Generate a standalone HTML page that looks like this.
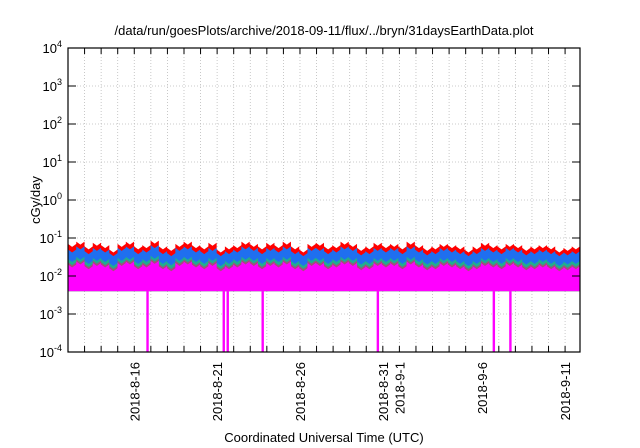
<!DOCTYPE html>
<html><head><meta charset="utf-8"><style>
body{margin:0;background:#fff;}
svg{display:block;font-family:"Liberation Sans",sans-serif;}
</style></head><body>
<svg id="chart" width="640" height="448" viewBox="0 0 640 448">
<text x="324" y="35" font-size="13" text-anchor="middle">/data/run/goesPlots/archive/2018-09-11/flux/../bryn/31daysEarthData.plot</text>
<text transform="translate(40,200) rotate(-90)" font-size="13" text-anchor="middle">cGy/day</text>
<text x="324" y="442" font-size="13" text-anchor="middle">Coordinated Universal Time (UTC)</text>
<g id="grid"></g><g id="series"></g><g id="axes"></g>
<rect x="68" y="48" width="512" height="304" fill="none" stroke="#000" stroke-width="1.2"/>
</svg>
<script>
const yTicks=[4,3,2,1,0,-1,-2,-3,-4];
const dateLabels=["2018-8-16","2018-8-21","2018-8-26","2018-8-31","2018-9-1","2018-9-6","2018-9-11"];
const dateDays=[4,9,14,19,20,25,30];
const red=[0.07,0.08,0.06,0.075,0.065,0.05,0.07,0.08,0.06,0.065,0.085,0.06,0.055,0.07,0.08,0.065,0.06,0.075,0.05,0.06,0.065,0.08,0.07,0.06,0.075,0.065,0.08,0.06,0.05,0.07,0.075,0.06,0.065,0.08,0.07,0.055,0.06,0.075,0.065,0.07,0.06,0.08,0.065,0.055,0.06,0.07,0.065,0.06,0.05,0.06,0.075,0.065,0.06,0.07,0.065,0.055,0.06,0.065,0.06,0.05,0.055,0.06];
const blue=[0.05,0.06,0.045,0.055,0.05,0.04,0.055,0.06,0.045,0.05,0.065,0.045,0.04,0.055,0.06,0.05,0.045,0.055,0.04,0.045,0.05,0.06,0.055,0.045,0.055,0.05,0.06,0.045,0.04,0.055,0.055,0.045,0.05,0.06,0.055,0.042,0.045,0.055,0.05,0.055,0.045,0.06,0.05,0.042,0.045,0.055,0.05,0.045,0.04,0.045,0.055,0.05,0.045,0.055,0.05,0.042,0.045,0.05,0.045,0.04,0.042,0.045];
const green=[0.028,0.032,0.025,0.03,0.028,0.022,0.03,0.032,0.025,0.028,0.034,0.025,0.023,0.03,0.032,0.028,0.025,0.03,0.022,0.025,0.028,0.032,0.03,0.025,0.03,0.028,0.032,0.025,0.022,0.03,0.03,0.025,0.028,0.032,0.03,0.024,0.025,0.03,0.028,0.03,0.025,0.032,0.028,0.024,0.025,0.03,0.028,0.025,0.022,0.025,0.03,0.028,0.025,0.03,0.028,0.024,0.025,0.028,0.025,0.022,0.024,0.025];
const magenta=[0.02,0.024,0.018,0.022,0.02,0.016,0.022,0.024,0.018,0.02,0.025,0.018,0.016,0.022,0.024,0.02,0.018,0.022,0.016,0.018,0.02,0.024,0.022,0.018,0.022,0.02,0.024,0.018,0.016,0.022,0.022,0.018,0.02,0.024,0.022,0.017,0.018,0.022,0.02,0.022,0.018,0.024,0.02,0.017,0.018,0.022,0.02,0.018,0.016,0.018,0.022,0.02,0.018,0.022,0.02,0.017,0.018,0.02,0.018,0.016,0.017,0.018];
const floorVal=0.004;
const dipDays=[4.8,9.4,9.64,11.75,18.7,25.7,26.7];
const NS="http://www.w3.org/2000/svg";
const X0=68,X1=580,Y0=48,Y1=352,DAYS=30.9;
function xs(d){return X0+d/DAYS*(X1-X0);}
function ys(v){return Y0+(4-Math.log10(v))/8*(Y1-Y0);}
function mk(tag,attrs,parent){const e=document.createElementNS(NS,tag);for(const k in attrs)e.setAttribute(k,attrs[k]);parent.appendChild(e);return e;}
const grid=document.getElementById('grid'),axes=document.getElementById('axes'),series=document.getElementById('series');
for(let d=1;d<DAYS;d++){const x=xs(d);
const g=mk('line',{x1:x,x2:x,y1:Y0,y2:Y1,stroke:'#bbb','stroke-dasharray':'1,2','stroke-width':0.8},grid);

const t=mk('line',{x1:x,x2:x,y1:Y1,y2:Y1-6,stroke:'#000'},axes);
const t2=mk('line',{x1:x,x2:x,y1:Y0,y2:Y0+6,stroke:'#000'},axes);}
yTicks.forEach(p=>{const y=ys(Math.pow(10,p));
if(p<4&&p>-4){const g=mk('line',{x1:X0,x2:X1,y1:y,y2:y,stroke:'#bbb','stroke-dasharray':'1,2','stroke-width':0.8},grid);}
const t=mk('line',{x1:X0,x2:X0+8,y1:y,y2:y,stroke:'#000'},axes);
const t3=mk('line',{x1:X1,x2:X1-8,y1:y,y2:y,stroke:'#000'},axes);
const lb=mk('text',{x:62,y:y+5,'font-size':13,'text-anchor':'end'},axes);
lb.textContent='10';const s=mk('tspan',{dy:-6,'font-size':9},lb);s.textContent=String(p);});
dateLabels.forEach((s,i)=>{const x=xs(dateDays[i]);const t=mk('text',{transform:`translate(${x+5},362) rotate(-90)`,'font-size':13,'text-anchor':'end'},axes);
t.textContent=s;});
function band(top,bottomFn,color,name){const n=top.length;let pts=[];
for(let i=0;i<n;i++){const x0=xs(i*DAYS/n),x1=xs((i+1)*DAYS/n);const y=ys(top[i]);pts.push(x0+','+y,((x0+x1)/2)+','+(y+3),x1+','+y);}
for(let i=n-1;i>=0;i--){const x0=xs(i*DAYS/n),x1=xs((i+1)*DAYS/n);const y=bottomFn(i);pts.push(x1+','+y,x0+','+y);}
const p=mk('polygon',{points:pts.join(' '),fill:color},series);}
band(red,i=>ys(floorVal),'#ff0000','series-red');
band(blue,i=>ys(floorVal),'#1f6fef','series-blue');
band(green,i=>ys(floorVal),'#1fae8f','series-green');
band(magenta.map((v,i)=>v*1.15),i=>ys(floorVal),'#a0507a','series-brown');
band(magenta,i=>ys(floorVal),'#ff00ff','series-magenta');
dipDays.forEach(d=>{const x=xs(d);const r=mk('rect',{x:x-1.2,y:ys(floorVal),width:2.4,height:Y1-ys(floorVal),fill:'#ff00ff'},series);
});
</script>
</body></html>
